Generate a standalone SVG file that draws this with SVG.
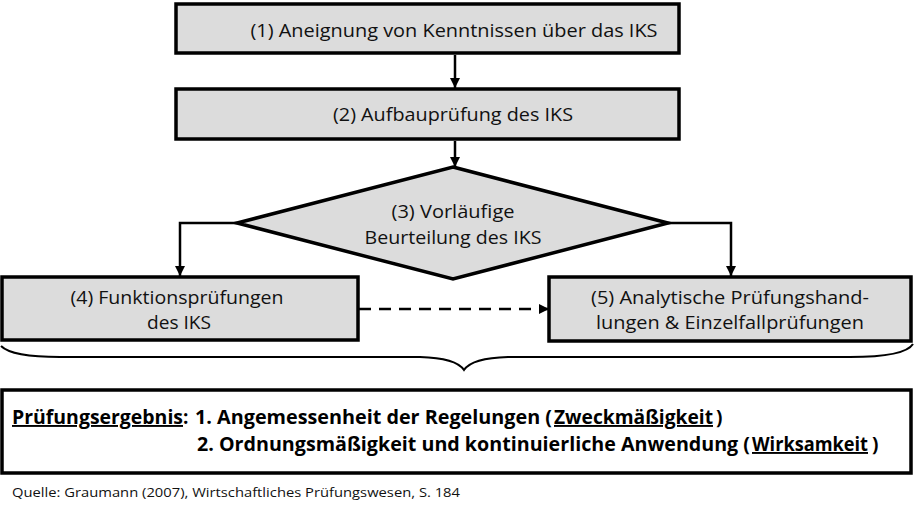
<svg xmlns="http://www.w3.org/2000/svg" width="914" height="505" viewBox="0 0 914 505">
<defs>
<style>
.box{fill:#dcdcdc;stroke:#000;stroke-width:3.5}
.t{font-family:"Open Sans","Noto Sans",sans-serif;font-size:19px;fill:#111;text-anchor:middle}
.b{font-family:"Open Sans","Noto Sans",sans-serif;font-size:19px;font-weight:bold;fill:#000}
.src{font-family:"Open Sans","Noto Sans",sans-serif;font-size:13.5px;fill:#111}
.c{fill:none;stroke:#000;stroke-width:2.5}
.u{text-decoration:underline}
</style>
<marker id="ah" viewBox="0 0 10 10" refX="10" refY="5" markerWidth="4" markerHeight="4" markerUnits="strokeWidth" orient="auto">
<path d="M0,0 L10,5 L0,10 Z" fill="#000"/>
</marker>
</defs>
<rect width="914" height="505" fill="#fff"/>
<g id="connectors">
<path class="c" d="M455,55 V88" marker-end="url(#ah)"/>
<path class="c" d="M455,141 V167" marker-end="url(#ah)"/>
<path class="c" d="M237,223 H180 V276" marker-end="url(#ah)"/>
<path class="c" d="M668,223 H731 V276" marker-end="url(#ah)"/>
<path class="c" d="M359,309 H549" stroke-dasharray="12,8" stroke-width="3" marker-end="url(#ah)"/>
</g>
<g id="n1">
<rect class="box" x="176" y="4" width="503" height="49"/>
<text class="t" x="454" y="37" textLength="407" lengthAdjust="spacingAndGlyphs">(1) Aneignung von Kenntnissen über das IKS</text>
</g>
<g id="n2">
<rect class="box" x="176" y="89" width="503" height="50"/>
<text class="t" x="453" y="121" textLength="240" lengthAdjust="spacingAndGlyphs">(2) Aufbauprüfung des IKS</text>
</g>
<g id="n3">
<polygon class="box" points="453,167 668,223 453,279 237,223"/>
<text class="t" x="453" y="218" textLength="123" lengthAdjust="spacingAndGlyphs">(3) Vorläufige</text>
<text class="t" x="453" y="244" textLength="177" lengthAdjust="spacingAndGlyphs">Beurteilung des IKS</text>
</g>
<g id="n4">
<rect class="box" x="2" y="277" width="356" height="63"/>
<text class="t" x="177" y="304" textLength="213" lengthAdjust="spacingAndGlyphs">(4) Funktionsprüfungen</text>
<text class="t" x="179" y="329" textLength="64" lengthAdjust="spacingAndGlyphs">des IKS</text>
</g>
<g id="n5">
<rect class="box" x="549" y="277" width="362" height="64"/>
<text class="t" x="730" y="304" textLength="278" lengthAdjust="spacingAndGlyphs">(5) Analytische Prüfungshand-</text>
<text class="t" x="730" y="329" textLength="268" lengthAdjust="spacingAndGlyphs">lungen &amp; Einzelfallprüfungen</text>
</g>
<g id="brace">
<path fill="none" stroke="#000" stroke-width="2" d="M1,346 Q12,357 60,357 L420,357 Q456,358 464,370 Q472,358 508,357 L850,357 Q905,357 913,344"/>
</g>
<g id="result">
<rect fill="#fff" stroke="#000" stroke-width="3.5" x="2" y="390" width="909" height="83"/>
<text class="b" y="424"><tspan class="u" x="12" textLength="171" lengthAdjust="spacingAndGlyphs">Prüfungsergebnis</tspan><tspan x="183">:</tspan><tspan x="195" textLength="357" lengthAdjust="spacingAndGlyphs">1. Angemessenheit der Regelungen (</tspan><tspan class="u" x="554" textLength="159" lengthAdjust="spacingAndGlyphs">Zweckmäßigkeit</tspan><tspan x="716">)</tspan></text>
<text class="b" y="451"><tspan x="197" textLength="553" lengthAdjust="spacingAndGlyphs">2. Ordnungsmäßigkeit und kontinuierliche Anwendung (</tspan><tspan class="u" x="752" textLength="116" lengthAdjust="spacingAndGlyphs">Wirksamkeit</tspan><tspan x="872">)</tspan></text>
</g>
<text class="src" x="12" y="497" textLength="448" lengthAdjust="spacingAndGlyphs">Quelle: Graumann (2007), Wirtschaftliches Prüfungswesen, S. 184</text>
</svg>
